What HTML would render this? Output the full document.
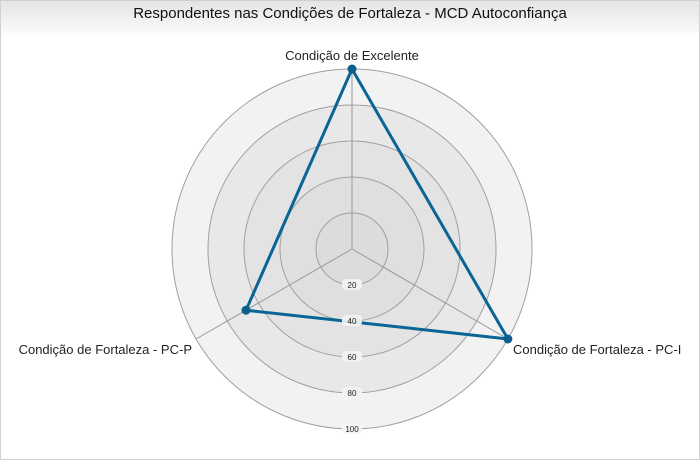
<!DOCTYPE html>
<html><head><meta charset="utf-8"><style>
body{margin:0;width:700px;height:460px;overflow:hidden;background:#fff;font-family:"Liberation Sans",sans-serif}
#wrap{position:absolute;left:0;top:0;width:698px;height:458px;border:1px solid #d0d0d0;background:#fff}
#title{position:absolute;left:0;top:0;width:698px;height:32px;background:linear-gradient(#e4e4e4,#fafafa);text-align:center;font-size:15px;line-height:26px;color:#111}
</style></head><body>
<div id="wrap">
<div id="title">Respondentes nas Condições de Fortaleza - MCD Autoconfiança</div>
<svg id="chart" width="700" height="460" style="position:absolute;left:-1px;top:-1px"></svg>
</div>
<script>
const categories=["Condição de Excelente","Condição de Fortaleza - PC-I","Condição de Fortaleza - PC-P"];
const values=[100,100,68];
const tickValues=[20,40,60,80,100];
const tickLabels=["20","40","60","80","100"];
const maxVal=100;
const cx=352,cy=249,R=180;
const svg=document.getElementById('chart');
const NS='http://www.w3.org/2000/svg';
function mk(t,a){const e=document.createElementNS(NS,t);for(const k in a)e.setAttribute(k,a[k]);svg.appendChild(e);return e;}
function rad(v){return v/maxVal*R;}
function ang(i){return -Math.PI/2+i*2*Math.PI/categories.length;}
function pt(i,v){return [cx+rad(v)*Math.cos(ang(i)),cy+rad(v)*Math.sin(ang(i))];}
const fills=["#f2f2f2","#e8e8e8","#e3e3e3","#dfdfdf","#dcdcdc"];
for(let k=tickValues.length-1;k>=0;k--){
  const c=mk('circle',{cx:cx,cy:cy,r:rad(tickValues[k]),fill:fills[tickValues.length-1-k],stroke:'#a0a0a0','stroke-width':1});
  
  
}
categories.forEach((c,i)=>{
  const p=pt(i,maxVal);
  const l=mk('line',{x1:cx,y1:cy,x2:p[0],y2:p[1],stroke:'#999','stroke-width':1});
  
  
});
const poly=values.map((v,i)=>pt(i,v).join(',')).join(' ');
const pg=mk('polygon',{points:poly,fill:'none',stroke:'#0a6496','stroke-width':3,'stroke-linejoin':'round'});


values.forEach((v,i)=>{
  const p=pt(i,v);
  const c=mk('circle',{cx:p[0],cy:p[1],r:4.5,fill:'#0a5f8f'});
  
  
});
tickValues.forEach((v,k)=>{
  const y=cy+rad(v);
  const r=mk('rect',{x:cx-10,y:y-6,width:20,height:11,rx:4,fill:'#f4f4f4',opacity:0.9});
  
  
  const t=mk('text',{x:cx,y:y+3,'text-anchor':'middle','font-size':8,fill:'#222'});
  t.textContent=tickLabels[k];
  
  
});
const lab=[[352,60,'middle'],[513,354,'start'],[192,354,'end']];
categories.forEach((c,i)=>{
  const t=mk('text',{x:lab[i][0],y:lab[i][1],'text-anchor':lab[i][2],'font-size':13,fill:'#222'});
  t.textContent=c;
  
  
});
</script>
</body></html>
